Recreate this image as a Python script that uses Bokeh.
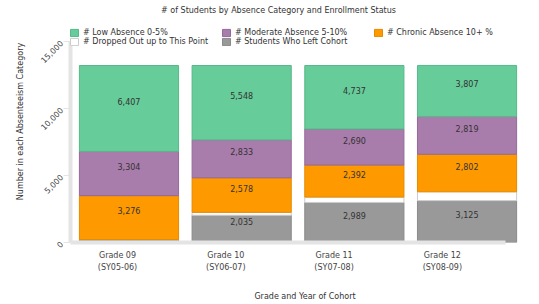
import numpy as np
from bokeh.plotting import figure
from bokeh.models import (Range1d, LinearAxis, FixedTicker, NumeralTickFormatter,
                          Legend, LegendItem, Label, ColumnDataSource)
from bokeh.core.properties import value
from bokeh.embed import file_html
from bokeh.resources import INLINE

# ---- data ----
grades = ["Grade 09", "Grade 10", "Grade 11", "Grade 12"]
school_years = ["(SY05-06)", "(SY06-07)", "(SY07-08)", "(SY08-09)"]
students_left = [220, 2035, 2989, 3125]
dropped_out = [0, 215, 400, 660]
chronic = [3276, 2578, 2392, 2802]
moderate = [3304, 2833, 2690, 2819]
low = [6407, 5548, 4737, 3807]

series_names = ["# Students Who Left Cohort", "# Dropped Out up to This Point",
                "# Chronic Absence 10+ %", "# Moderate Absence 5-10%",
                "# Low Absence 0-5%"]
y_ticks = [0, 5000, 10000, 15000]

FONT = "DejaVu Sans"
fills = ["#999999", "#ffffff", "#ff9900", "#a97dab", "#66cc99"]
lines = ["#8a8a8a", "#cccccc", "#e58a00", "#94699a", "#58b888"]

x = list(range(len(grades)))
keys = ["left", "dropped", "chronic", "moderate", "low"]
data = dict(x=x, left=students_left, dropped=dropped_out, chronic=chronic,
            moderate=moderate, low=low)
src = ColumnDataSource(data)

p = figure(width=539, height=304, output_backend="svg", toolbar_location=None,
           x_range=Range1d(-0.519, 3.643), y_range=Range1d(0, 18060),
           x_axis_location=None,
           min_border_left=70, min_border_right=0, min_border_top=0,
           min_border_bottom=62, outline_line_color=None,
           background_fill_color="white", border_fill_color="white")
p.grid.visible = False

rs = p.vbar_stack(keys, x="x", width=0.88, source=src,
                  fill_color=fills, line_color=lines, line_width=1)

# segment value labels
stack = np.array([students_left, dropped_out, chronic, moderate, low], dtype=float)
tops = np.cumsum(stack, axis=0)
mids = tops - stack / 2
lx, ly, lt = [], [], []
for s in range(stack.shape[0]):
    for i in range(stack.shape[1]):
        if stack[s, i] >= 1000:
            lx.append(x[i]); ly.append(mids[s, i]); lt.append(f"{int(stack[s, i]):,}")
p.text(x=lx, y=ly, text=lt, text_align="center", text_baseline="middle",
       text_font=value(FONT), text_font_size="8px", text_color="#333333", y_offset=-7)

# y axis (the "wall")
ya = p.yaxis[0]
ya.ticker = FixedTicker(ticks=y_ticks)
ya.bounds = (0, 15000)
ya.formatter = NumeralTickFormatter(format="0,0")
ya.major_label_orientation = np.pi / 4
ya.axis_line_color = "#e4e4e4"
ya.axis_line_width = 4
ya.major_tick_line_color = "#e4e4e4"
ya.major_tick_out = 7
ya.major_tick_in = 0
ya.minor_tick_line_color = None
ya.major_label_standoff = 2
ya.major_label_text_font = FONT
ya.major_label_text_font_size = "8px"
ya.major_label_text_color = "#444444"
ya.axis_label = "Number in each Absenteeism Category"
ya.axis_label_text_font = FONT
ya.axis_label_text_font_size = "8px"
ya.axis_label_text_font_style = "normal"
ya.axis_label_text_color = "#333333"
ya.axis_label_standoff = 9

# x axes with category labels (the "floor"), two label lines
p.extra_x_ranges = {"lab": Range1d(-0.434, 3.897)}


def style_axis(ax):
    ax.major_tick_line_color = None
    ax.major_tick_out = 0
    ax.major_tick_in = 0
    ax.minor_tick_line_color = None
    ax.major_label_text_font = FONT
    ax.major_label_text_font_size = "8px"
    ax.major_label_text_color = "#444444"


xa = LinearAxis(x_range_name="lab", ticker=FixedTicker(ticks=x),
                major_label_overrides={i: g for i, g in enumerate(grades)})
style_axis(xa)
xa.bounds = (-0.462, 3.583)
xa.axis_line_color = "#e4e4e4"
xa.axis_line_width = 4
xa.major_label_standoff = 8
p.add_layout(xa, "below")

xb = LinearAxis(x_range_name="lab", ticker=FixedTicker(ticks=x),
                major_label_overrides={i: s for i, s in enumerate(school_years)})
style_axis(xb)
xb.axis_line_color = None
xb.major_label_standoff = 0
xb.axis_label = "Grade and Year of Cohort"
xb.axis_label_text_font = FONT
xb.axis_label_text_font_size = "8px"
xb.axis_label_text_font_style = "normal"
xb.axis_label_text_color = "#333333"
xb.axis_label_standoff = 17
p.add_layout(xb, "below")

# title
p.add_layout(Label(x=208, y=232, x_units="screen", y_units="screen",
                   text="# of Students by Absence Category and Enrollment Status",
                   text_align="center", text_baseline="middle",
                   text_font=FONT, text_font_size="8px", text_color="#333333"))

# legend
order = [4, 3, 2, 1, 0]
items = [LegendItem(label=series_names[k], renderers=[rs[k]]) for k in order]
leg = Legend(items=items, location=(-1, 196), orientation="horizontal", ncols=3,
             glyph_width=10, glyph_height=9, label_width=138, label_height=9,
             label_standoff=4, spacing=0, padding=0, margin=0,
             label_text_font=FONT, label_text_font_size="8px",
             label_text_color="#333333", border_line_color=None,
             background_fill_alpha=0)
p.add_layout(leg, "center")

open("out.html", "w").write(file_html(p, INLINE))
